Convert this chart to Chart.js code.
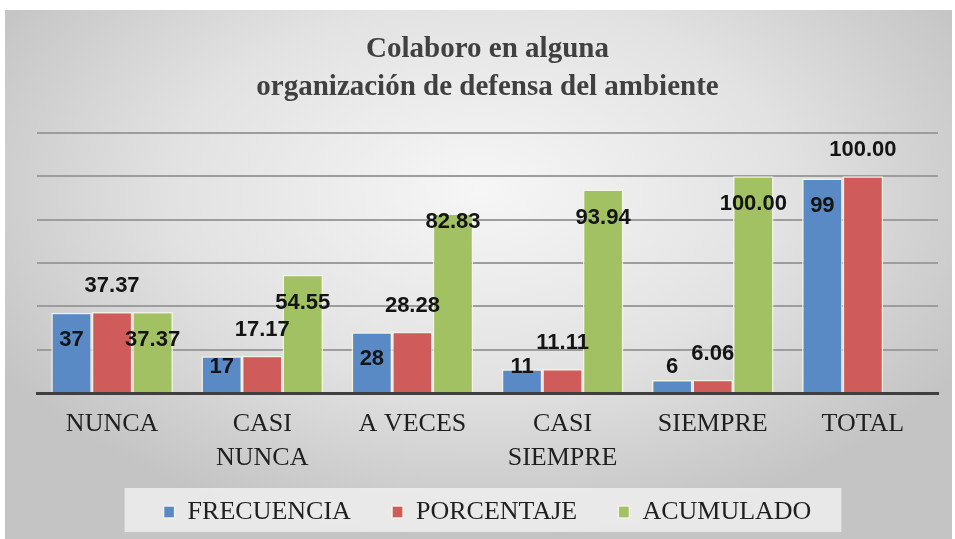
<!DOCTYPE html>
<html>
<head>
<meta charset="utf-8">
<script src="https://cdn.jsdelivr.net/npm/chart.js@4.4.0/dist/chart.umd.min.js"></script>
<style>
  html, body { margin: 0; padding: 0; background: #fff; }
  #wrap { width: 955px; height: 539px; }
</style>
</head>
<body>
<div id="wrap"><canvas id="myChart" width="955" height="539"></canvas></div>
<script>
const categorias = [['NUNCA'], ['CASI', 'NUNCA'], ['A VECES'], ['CASI', 'SIEMPRE'], ['SIEMPRE'], ['TOTAL']];
const frecuencia = [37, 17, 28, 11, 6, 99];
const porcentaje = [37.37, 17.17, 28.28, 11.11, 6.06, 100.00];
const acumulado = [37.37, 54.55, 82.83, 93.94, 100.00, null];
const titulo = ['Colaboro en alguna', 'organización de defensa del ambiente'];

// colori delle serie
const coloreBlu = '#5A8AC6';
const coloreRosso = '#CF5C5A';
const coloreVerde = '#A1C162';

// sfondo grigio sfumato (stile Excel)
const sfondoPlugin = {
    id: 'sfondo',
    beforeDraw(chart) {
        const ctx = chart.ctx;
        const w = chart.width, h = chart.height;
        ctx.save();
        ctx.fillStyle = '#ffffff';
        ctx.fillRect(0, 0, w, h);
        const x0 = 5, y0 = 10, bw = 947, bh = 529;
        ctx.beginPath();
        ctx.rect(x0, y0, bw, bh);
        ctx.clip();
        ctx.translate(480, 190);
        ctx.scale(1, 0.62);
        const g = ctx.createRadialGradient(0, 0, 0, 0, 0, 560);
        g.addColorStop(0, '#f6f6f6');
        g.addColorStop(0.55, '#e2e2e2');
        g.addColorStop(1, '#c4c4c4');
        ctx.fillStyle = g;
        ctx.fillRect(-600, -600, 1200, 1400);
        ctx.restore();

        // riquadro della legenda
        const legend = chart.legend;
        if (legend && legend.legendHitBoxes && legend.legendHitBoxes.length) {
            const hb = legend.legendHitBoxes;
            let minX = Infinity, maxX = -Infinity, minY = Infinity, maxY = -Infinity;
            hb.forEach(b => {
                minX = Math.min(minX, b.left);
                maxX = Math.max(maxX, b.left + b.width);
                minY = Math.min(minY, b.top);
                maxY = Math.max(maxY, b.top + b.height);
            });
            ctx.save();
            ctx.fillStyle = 'rgba(238,238,238,0.85)';
            ctx.fillRect(minX - 39, minY - 11, (maxX - minX) + 69, (maxY - minY) + 18);
            ctx.restore();
        }
    }
};

// etichette dei valori sopra / dentro le barre
const etichettePlugin = {
    id: 'etichette',
    afterDatasetsDraw(chart) {
        const ctx = chart.ctx;
        const base = chart.scales.y.getPixelForValue(0);
        ctx.save();
        ctx.font = 'bold 22px "Liberation Sans", Arial, sans-serif';
        ctx.fillStyle = '#141414';
        ctx.textAlign = 'center';
        ctx.textBaseline = 'middle';
        chart.data.datasets.forEach((ds, di) => {
            const meta = chart.getDatasetMeta(di);
            meta.data.forEach((bar, i) => {
                const v = ds.data[i];
                if (v === null || v === undefined) return;
                let y;
                let testo = di === 0 ? String(v) : v.toFixed(2);
                if (di === 1) {
                    y = bar.y - 26;
                } else if (di === 0) {
                    y = Math.min(bar.y + 27, base - 26);
                } else {
                    y = bar.y + 28;
                    if (v > 80 && v < 90) y = bar.y + 8;
                }
                ctx.fillText(testo, bar.x, y);
            });
        });
        ctx.restore();
    }
};

let myChart;

function createChart() {
    const ctx = document.getElementById('myChart').getContext('2d');
    myChart = new Chart(ctx, {
        type: 'bar',
        data: {
            labels: categorias,
            datasets: [
                {
                    label: 'FRECUENCIA',
                    data: frecuencia,
                    backgroundColor: coloreBlu,
                    borderColor: 'rgba(245,245,230,0.9)',
                    borderWidth: 1.5,
                },
                {
                    label: 'PORCENTAJE',
                    data: porcentaje,
                    backgroundColor: coloreRosso,
                    borderColor: 'rgba(245,245,230,0.9)',
                    borderWidth: 1.5,
                },
                {
                    label: 'ACUMULADO',
                    data: acumulado,
                    backgroundColor: coloreVerde,
                    borderColor: 'rgba(245,245,230,0.9)',
                    borderWidth: 1.5,
                }
            ]
        },
        options: {
            responsive: false,
            animation: false,
            devicePixelRatio: 1,
            layout: {
                padding: { left: 37, right: 17, top: 10, bottom: 4 }
            },
            datasets: {
                bar: {
                    categoryPercentage: 0.81,
                    barPercentage: 1.0,
                }
            },
            scales: {
                x: {
                    grid: { display: false, drawTicks: false, tickLength: 0 },
                    border: { display: true, color: '#3f3f3f', width: 3 },
                    ticks: {
                        autoSkip: false,
                        maxRotation: 0,
                        padding: 14,
                        color: '#1f1f1f',
                        font: { family: '"Liberation Serif", "Times New Roman", serif', size: 26, lineHeight: 34 / 26 }
                    }
                },
                y: {
                    min: 0,
                    max: 120,
                    ticks: { display: false, stepSize: 20 },
                    border: { display: false },
                    grid: {
                        color: '#9d9d9d',
                        lineWidth: 2,
                        drawTicks: false,
                        tickLength: 0,
                    }
                }
            },
            plugins: {
                title: {
                    display: true,
                    text: titulo,
                    color: '#404040',
                    padding: { top: 21, bottom: 26 },
                    font: { family: '"Liberation Serif", "Times New Roman", serif', size: 29, weight: 'bold', lineHeight: 38 / 29 }
                },
                legend: {
                    display: true,
                    position: 'bottom',
                    labels: {
                        boxWidth: 11,
                        boxHeight: 12,
                        padding: 10,
                        color: '#1f1f1f',
                        font: { family: '"Liberation Serif", "Times New Roman", serif', size: 26 },
                        // spazio extra tra le voci senza allargare in verticale
                        generateLabels(chart) {
                            const items = Chart.defaults.plugins.legend.labels.generateLabels(chart);
                            items.forEach((it, i) => {
                                if (i < items.length - 1) it.text = it.text + '\u2003\u2009';
                            });
                            return items;
                        }
                    }
                },
                tooltip: { enabled: false }
            }
        },
        plugins: [sfondoPlugin, etichettePlugin]
    });
}

window.onload = function () {
    createChart();
}
</script>
</body>
</html>
